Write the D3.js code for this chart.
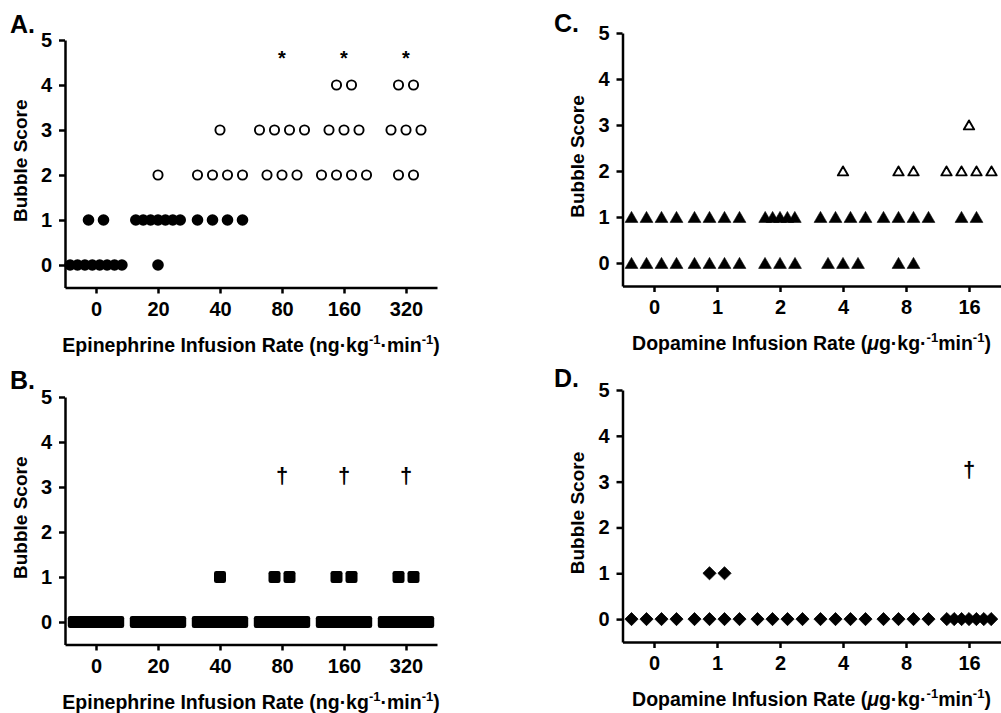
<!DOCTYPE html>
<html>
<head>
<meta charset="utf-8">
<script src="https://cdn.jsdelivr.net/npm/d3@7"></script>
<style>
body { margin: 0; background: #fff; }
text { font-family: "Liberation Sans", Arial, Helvetica, sans-serif; }
</style>
</head>
<body>
<div id="chart"></div>
<script>
// DATA
var epiDoses = ["0", "20", "40", "80", "160", "320"];
var dopaDoses = ["0", "1", "2", "4", "8", "16"];
var scoreTicks = [0, 1, 2, 3, 4, 5];

// each row: [dose index, bubble score, number of animals with that score]
var epiA = [[0,0,8],[0,1,2],[1,0,1],[1,1,7],[1,2,1],[2,1,4],[2,2,4],[2,3,1],
            [3,2,3],[3,3,4],[4,2,4],[4,3,3],[4,4,2],[5,2,2],[5,3,3],[5,4,2]];
var epiB = [[0,0,7],[1,0,7],[2,0,7],[2,1,1],[3,0,7],[3,1,2],[4,0,7],[4,1,2],[5,0,7],[5,1,2]];
var dopaC = [[0,0,4],[0,1,4],[1,0,4],[1,1,4],[2,0,3],[2,1,5],[3,0,3],[3,1,4],[3,2,1],
             [4,0,2],[4,1,4],[4,2,2],[5,1,2],[5,2,4],[5,3,1]];
var dopaD = [[0,0,4],[1,0,4],[1,1,2],[2,0,4],[3,0,4],[4,0,4],[5,0,7]];

// significance marks: dose index + height on the score scale
var starsA = [3, 4, 5], starScore = 4.7;
var daggersB = [3, 4, 5], daggersD = [5], daggerScore = 3.27;

var svg = d3.select("#chart").append("svg")
  .attr("width", 1001)
  .attr("height", 713);

// spread the animals of one score side by side
function expand(rows) {
  var pts = [];
  rows.forEach(function(r) {
    var n = r[2];
    var step = n > 4 ? 7.4 : 15;
    for (var i = 0; i < n; i++) {
      pts.push({dose: r[0], score: r[1], off: (i - (n - 1) / 2) * step});
    }
  });
  return pts;
}

var shapes = {
  triangle: "M0,-5.6L6.4,5.4L-6.4,5.4Z",
  triangleOpen: "M0,-4.6L5.2,4.4L-5.2,4.4Z",
  diamond: "M0,-6.6L6.6,0L0,6.6L-6.6,0Z"
};

function drawPanel(p) {
  var g = svg.append("g");

  var x = d3.scaleLinear().domain([-0.5, 5.5]).range([p.left, p.right]);
  var y = d3.scaleLinear().domain([-0.5, 5]).range([p.bottom, p.top]);

  var yAxis = d3.axisLeft(y).tickValues(scoreTicks).tickFormat(d3.format("d"))
    .tickSize(6).tickPadding(7).tickSizeOuter(0);
  var xAxis = d3.axisBottom(x).tickValues([0,1,2,3,4,5])
    .tickFormat(function(i) { return p.doses[i]; })
    .tickSize(6).tickPadding(8).tickSizeOuter(0);

  var ya = g.append("g").attr("transform", "translate(" + p.left + ",0)").call(yAxis);
  var xa = g.append("g").attr("transform", "translate(0," + p.bottom + ")").call(xAxis);
  [ya, xa].forEach(function(a) {
    a.selectAll("path, line").attr("stroke", "#000").attr("stroke-width", 2.5);
    a.selectAll("text").attr("fill", "#000")
      .style("font-size", "20px").style("font-weight", "bold");
  });

  // panel letter
  g.append("text")
    .attr("x", p.letterX).attr("y", p.letterY)
    .style("font-size", "25px").style("font-weight", "bold")
    .text(p.letter);

  // y title
  g.append("text")
    .attr("transform", "translate(" + (p.left - 45) + "," + ((p.top + p.bottom) / 2 - 3) + ") rotate(-90)")
    .attr("text-anchor", "middle")
    .attr("dy", "0.35em")
    .style("font-size", "19px").style("font-weight", "bold")
    .text("Bubble Score");

  // x title with superscripts
  var t = g.append("text")
    .attr("x", (p.left + p.right) / 2)
    .attr("y", p.bottom + 64)
    .attr("text-anchor", "middle")
    .style("font-size", "19.5px").style("font-weight", "bold");
  p.title.forEach(function(part) {
    var s = t.append("tspan").text(part.t);
    if (part.sup) s.attr("dy", -8).style("font-size", "13px");
    if (part.after) s.attr("dy", 8);
    if (part.it) s.style("font-style", "italic");
  });

  // points
  var pts = expand(p.rows);
  var marks = g.append("g").selectAll(".pt").data(pts).enter();
  function px(d) { return x(d.dose) + d.off; }
  function py(d) { return y(d.score); }

  if (p.shape === "circle") {
    marks.append("circle")
      .attr("cx", px).attr("cy", py)
      .attr("r", function(d) { return d.score >= 2 ? 4.6 : 5.8; })
      .attr("fill", function(d) { return d.score >= 2 ? "#fff" : "#000"; })
      .attr("stroke", "#000")
      .attr("stroke-width", function(d) { return d.score >= 2 ? 1.9 : 0; });
  } else if (p.shape === "square") {
    marks.append("rect")
      .attr("x", function(d) { return px(d) - 6; })
      .attr("y", function(d) { return py(d) - 6; })
      .attr("width", 12).attr("height", 12)
      .attr("rx", 2.2)
      .attr("fill", "#000");
  } else if (p.shape === "triangle") {
    marks.append("path")
      .attr("transform", function(d) { return "translate(" + px(d) + "," + py(d) + ")"; })
      .attr("d", function(d) { return d.score >= 2 ? shapes.triangleOpen : shapes.triangle; })
      .attr("fill", function(d) { return d.score >= 2 ? "#fff" : "#000"; })
      .attr("stroke", "#000")
      .attr("stroke-linejoin", "round")
      .attr("stroke-width", function(d) { return d.score >= 2 ? 1.9 : 0.6; });
  } else {
    marks.append("path")
      .attr("transform", function(d) { return "translate(" + px(d) + "," + py(d) + ")"; })
      .attr("d", shapes.diamond)
      .attr("fill", "#000")
      .attr("stroke", "#000")
      .attr("stroke-linejoin", "round")
      .attr("stroke-width", 0.8);
  }

  // significance symbols
  g.selectAll(".sig").data(p.sig).enter().append("text")
    .attr("x", function(d) { return x(d); })
    .attr("y", y(p.sigScore))
    .attr("dy", p.sigChar === "*" ? "0.55em" : "0.35em")
    .attr("text-anchor", "middle")
    .attr("fill", "#000")
    .style("font-size", p.sigChar === "*" ? "20px" : "22px")
    .style("font-weight", "bold")
    .text(p.sigChar);
}

var epiTitle = [{t: "Epinephrine Infusion Rate (ng\u00b7kg"}, {t: "-1", sup: true},
                {t: "\u00b7min", after: true}, {t: "-1", sup: true}, {t: ")", after: true}];
var dopaTitle = [{t: "Dopamine Infusion Rate ("}, {t: "\u03bc", it: true}, {t: "g\u00b7kg\u00b7"},
                 {t: "-1", sup: true}, {t: "min", after: true}, {t: "-1", sup: true}, {t: ")", after: true}];

drawPanel({letter: "A.", letterX: 10, letterY: 33, left: 65, right: 437, top: 40, bottom: 287.5,
           doses: epiDoses, rows: epiA, shape: "circle", title: epiTitle,
           sig: starsA, sigChar: "*", sigScore: starScore});
drawPanel({letter: "B.", letterX: 10, letterY: 389, left: 65, right: 437, top: 397, bottom: 644.5,
           doses: epiDoses, rows: epiB, shape: "square", title: epiTitle,
           sig: daggersB, sigChar: "\u2020", sigScore: daggerScore});
drawPanel({letter: "C.", letterX: 554, letterY: 32, left: 622.5, right: 1000.5, top: 33, bottom: 286,
           doses: dopaDoses, rows: dopaC, shape: "triangle", title: dopaTitle,
           sig: [], sigChar: "", sigScore: 0});
drawPanel({letter: "D.", letterX: 554, letterY: 387, left: 622.5, right: 1000.5, top: 390, bottom: 642,
           doses: dopaDoses, rows: dopaD, shape: "diamond", title: dopaTitle,
           sig: daggersD, sigChar: "\u2020", sigScore: daggerScore});
</script>
</body>
</html>
